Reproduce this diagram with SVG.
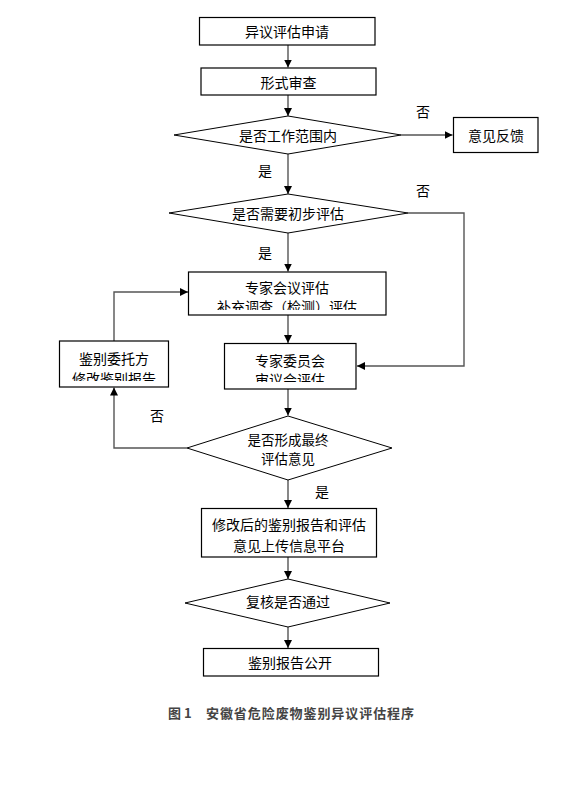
<svg xmlns="http://www.w3.org/2000/svg" width="563" height="811" viewBox="0 0 563 811">
<style>
.box{fill:#fff;stroke:#000;stroke-width:1.2}
.dia{fill:#fff;stroke:#000;stroke-width:1}
.t{font-family:"Noto Sans CJK SC","Noto Sans",sans-serif;font-size:14px;fill:#000;text-anchor:middle;dominant-baseline:central}
.t2{font-family:"Noto Sans CJK SC","Noto Sans",sans-serif;font-size:13.5px;fill:#000;text-anchor:middle;dominant-baseline:central}
.lbl{font-family:"Noto Sans CJK SC","Noto Sans",sans-serif;font-size:14px;fill:#000;text-anchor:middle;dominant-baseline:central}
.cap{font-family:"Noto Sans CJK SC","Noto Sans",sans-serif;font-size:13px;font-weight:bold;fill:#444;dominant-baseline:central}
.c{fill:none;stroke:#555;stroke-width:1.4}
</style>
<defs>
<marker id="ah" viewBox="0 0 10 10" refX="10" refY="5" markerWidth="8" markerHeight="8" markerUnits="userSpaceOnUse" orient="auto">
<path d="M0,0 L10,5 L0,10 z" fill="#000"/>
</marker>
<clipPath id="cp3"><rect x="188" y="272" width="198" height="38"/></clipPath>
<clipPath id="cp4"><rect x="224" y="343" width="132" height="39"/></clipPath>
<clipPath id="cp5"><rect x="59" y="341" width="109" height="40"/></clipPath>
</defs>
<rect width="563" height="811" fill="#fff"/>

<g id="connectors">
<line class="c" x1="288" y1="45" x2="288" y2="67.5" marker-end="url(#ah)"/>
<line class="c" x1="288" y1="95" x2="288" y2="116" marker-end="url(#ah)"/>
<line class="c" x1="401" y1="135" x2="452.5" y2="135" marker-end="url(#ah)"/>
<line class="c" x1="288" y1="154" x2="288" y2="194" marker-end="url(#ah)"/>
<polyline class="c" points="408,213 464,213 464,366 357,366" marker-end="url(#ah)"/>
<line class="c" x1="288" y1="233" x2="288" y2="271.5" marker-end="url(#ah)"/>
<line class="c" x1="288" y1="315" x2="288" y2="343" marker-end="url(#ah)"/>
<polyline class="c" points="114,341 114,292 188,292" marker-end="url(#ah)"/>
<line class="c" x1="288" y1="389" x2="288" y2="415.5" marker-end="url(#ah)"/>
<polyline class="c" points="187,448 114,448 114,387.5" marker-end="url(#ah)"/>
<line class="c" x1="288" y1="480" x2="288" y2="508" marker-end="url(#ah)"/>
<line class="c" x1="288" y1="557" x2="288" y2="579" marker-end="url(#ah)"/>
<line class="c" x1="288" y1="627" x2="288" y2="648" marker-end="url(#ah)"/>
</g>

<g id="labels">
<text class="lbl" x="423" y="111">否</text>
<text class="lbl" x="265" y="170">是</text>
<text class="lbl" x="423" y="190">否</text>
<text class="lbl" x="265" y="252">是</text>
<text class="lbl" x="157" y="415">否</text>
<text class="lbl" x="322" y="491">是</text>
</g>

<g id="n1"><rect class="box" x="199.5" y="17.5" width="175.5" height="27.5"/><text class="t" x="287" y="31">异议评估申请</text></g>
<g id="n2"><rect class="box" x="201" y="68" width="175" height="27"/><text class="t" x="288.5" y="81.5">形式审查</text></g>
<g id="n3"><polygon class="dia" points="174,135 288,116 401,135 288,154"/><text class="t" x="288" y="135">是否工作范围内</text></g>
<g id="n4"><rect class="box" x="453.5" y="117.5" width="84.5" height="35"/><text class="t" x="496" y="135">意见反馈</text></g>
<g id="n5"><polygon class="dia" points="169,213 288,194 408,213 288,233"/><text class="t" x="288" y="213">是否需要初步评估</text></g>
<g id="n6"><rect class="box" x="188.5" y="272" width="197.5" height="43"/><text class="t" x="287" y="287">专家会议评估</text><text class="t" x="287" y="306" clip-path="url(#cp3)">补充调查（检测）评估</text></g>
<g id="n7"><rect class="box" x="224.5" y="343.5" width="131.5" height="45.5"/><text class="t" x="290" y="360">专家委员会</text><text class="t" x="290" y="379" clip-path="url(#cp4)">审议会评估</text></g>
<g id="n8"><rect class="box" x="59.5" y="341" width="109" height="46"/><text class="t" x="114" y="358">鉴别委托方</text><text class="t" x="114" y="378" clip-path="url(#cp5)">修改鉴别报告</text></g>
<g id="n9"><polygon class="dia" points="187,448 288,416 392,448 288,480"/><text class="t2" x="288" y="438.5">是否形成最终</text><text class="t2" x="288" y="458">评估意见</text></g>
<g id="n10"><rect class="box" x="201.5" y="508.5" width="175" height="48.5"/><text class="t" x="289" y="524">修改后的鉴别报告和评估</text><text class="t" x="289" y="545">意见上传信息平台</text></g>
<g id="n11"><polygon class="dia" points="185,603 288,579 390,603 288,627"/><text class="t" x="288" y="601">复核是否通过</text></g>
<g id="n12"><rect class="box" x="203.5" y="648.5" width="175" height="27.5"/><text class="t" x="290" y="662">鉴别报告公开</text></g>

<text class="cap" x="168" y="712">图 1</text>
<text class="cap" x="206" y="712" textLength="208">安徽省危险废物鉴别异议评估程序</text>
</svg>
